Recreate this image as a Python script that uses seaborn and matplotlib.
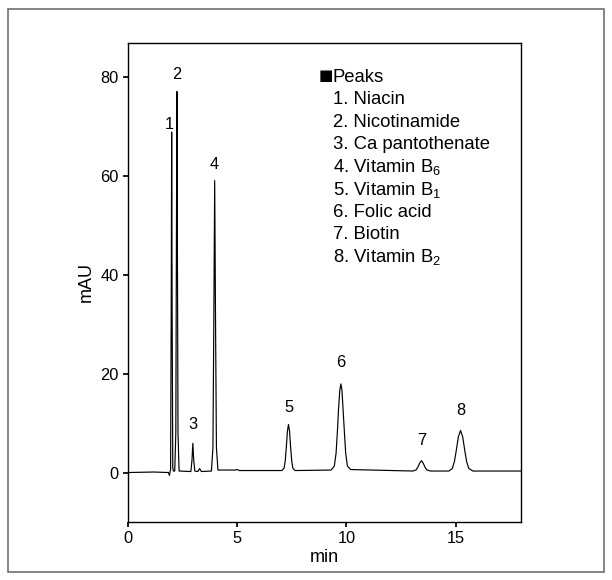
import matplotlib
matplotlib.use("Agg")
import matplotlib.pyplot as plt
from matplotlib.patches import Rectangle
import seaborn as sns
import pandas as pd

# chromatogram trace, points (min, mAU)
time_min = [0.0, 1.2, 1.85, 1.9, 1.93,
            1.95, 1.98, 2.00, 2.02, 2.05, 2.08,
            2.14, 2.19, 2.22, 2.24, 2.26, 2.29, 2.34,
            2.88, 2.93, 2.97, 3.01, 3.06,
            3.2, 3.28, 3.36,
            3.82, 3.89, 3.93, 3.97, 4.01, 4.05, 4.12,
            4.9, 5.0, 5.1,
            7.05, 7.15, 7.2, 7.25, 7.3, 7.35, 7.4, 7.45, 7.5, 7.55, 7.65,
            9.3, 9.45, 9.53, 9.6, 9.64, 9.7, 9.75, 9.8, 9.86, 9.9, 9.97, 10.05, 10.2,
            13.05, 13.2, 13.29, 13.36, 13.44, 13.52, 13.59, 13.68, 13.85,
            14.7, 14.85, 14.95, 15.03, 15.13, 15.23, 15.33, 15.43, 15.51, 15.61, 15.8,
            18.0]
signal_mau = [0.0, 0.1, 0.0, -0.6, 0.3,
              0.5, 34, 68.8, 34, 1.0, 0.3,
              0.3, 8, 50, 77, 50, 8, 0.3,
              0.2, 2.5, 5.9, 2.5, 0.3,
              0.2, 0.8, 0.2,
              0.3, 5, 30, 59, 30, 5, 0.5,
              0.5, 0.6, 0.4,
              0.4, 0.9, 2.3, 5.0, 8.3, 9.7, 8.3, 5.0, 2.3, 0.9, 0.4,
              0.5, 1.3, 3.9, 9.0, 12.6, 16.6, 17.9, 16.6, 12.0, 9.0, 3.9, 1.3, 0.6,
              0.3, 0.55, 1.2, 1.9, 2.4, 1.9, 1.2, 0.55, 0.3,
              0.3, 0.8, 2.2, 4.3, 7.2, 8.5, 7.2, 4.3, 2.2, 0.8, 0.3,
              0.3]

# peak apexes
peak_ids = ["1", "2", "3", "4", "5", "6", "7", "8"]
peak_time = [2.00, 2.24, 2.97, 3.97, 7.35, 9.75, 13.44, 15.23]
peak_height = [68.8, 77, 5.9, 59, 9.7, 17.9, 2.4, 8.5]

peak_names = ["1. Niacin", "2. Nicotinamide", "3. Ca pantothenate",
              "4. Vitamin B$_6$", "5. Vitamin B$_1$", "6. Folic acid",
              "7. Biotin", "8. Vitamin B$_2$"]

x_ticks = [0, 5, 10, 15]
y_ticks = [0, 20, 40, 60, 80]

sns.set_theme(style="ticks")
plt.rcParams.update({
    "font.family": ["Liberation Sans", "DejaVu Sans"],
    "mathtext.fontset": "custom",
    "mathtext.rm": "Liberation Sans",
    "mathtext.default": "regular",
    "text.color": "black",
    "axes.labelcolor": "black",
    "axes.edgecolor": "black",
    "axes.linewidth": 1.0,
    "xtick.color": "black",
    "ytick.color": "black",
    "xtick.major.size": 3.5,
    "ytick.major.size": 3.5,
    "xtick.labelsize": 11.8,
    "ytick.labelsize": 11.8,
    "axes.labelsize": 13,
})

df = pd.DataFrame({"min": time_min, "mAU": signal_mau})

fig = plt.figure(figsize=(6.12, 5.8), dpi=100)
ax = fig.add_axes([128 / 612, 1 - 522 / 580, (521 - 128) / 612, (522 - 43) / 580])

sns.lineplot(data=df, x="min", y="mAU", ax=ax, color="black",
             linewidth=0.85, estimator=None, sort=False)

# peak number labels
label_offsets = [(-2, 0), (0, 7), (0, 8), (0, 6), (0, 7), (0, 10), (0, 9), (0, 9)]
for pid, t, h, off in zip(peak_ids, peak_time, peak_height, label_offsets):
    ax.annotate(pid, (t, h), xytext=off, textcoords="offset points",
                ha="center", va="bottom", fontsize=11.8, color="black")

ax.set_xlim(0, 18)
ax.set_ylim(-10, 86.8)
ax.set_xticks(x_ticks)
ax.set_yticks(y_ticks)
ax.set_xlabel("min", labelpad=2)
ax.set_ylabel("mAU", labelpad=4)
ax.tick_params(direction="out", pad=3)

# peak list
fig.text(319 / 612, 1 - 76 / 580, "\u25a0", fontsize=11, va="center", ha="left",
         family=["DejaVu Sans"], color="black")
fig.text(332 / 612, 1 - 77 / 580, "Peaks", fontsize=13.3, va="center", ha="left")
for i, name in enumerate(peak_names):
    fig.text(333 / 612, 1 - (100 + 22.4 * i) / 580, name, fontsize=13.3,
             va="center", ha="left")

# outer frame
fig.patches.append(Rectangle((8 / 612, 1 - 572 / 580), 596 / 612, 563 / 580,
                             transform=fig.transFigure, fill=False,
                             edgecolor="#707070", linewidth=1.2))

fig.savefig("out.png", dpi=100)
